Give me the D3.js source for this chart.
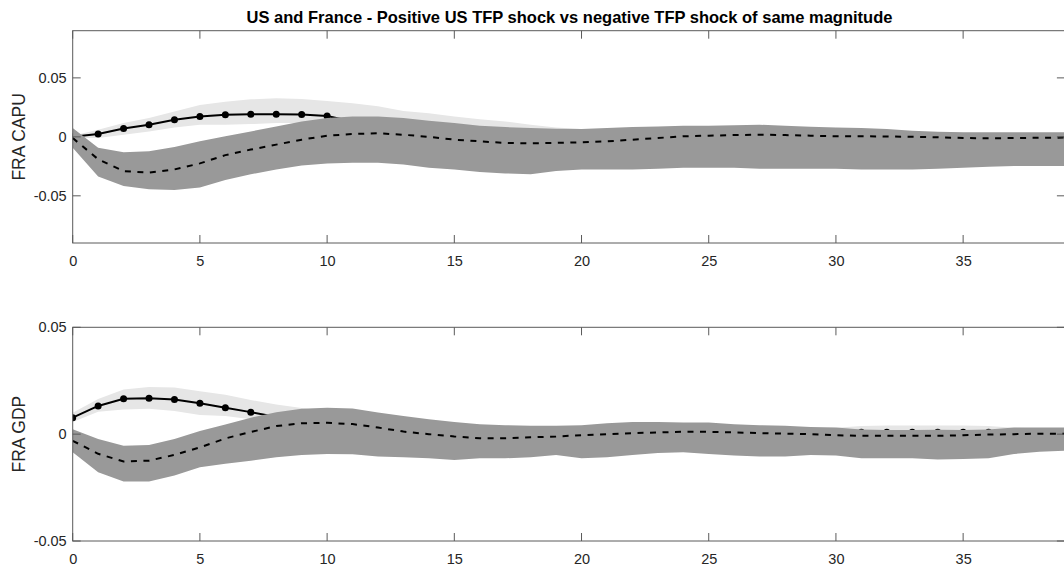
<!DOCTYPE html>
<html><head><meta charset="utf-8">
<script src="https://cdn.jsdelivr.net/npm/d3@7"></script>
<style>
html,body{margin:0;padding:0;background:#fff;}
svg{display:block;font-family:"Liberation Sans",Arial,Helvetica,sans-serif;}
</style></head>
<body><svg id="chart" width="1064" height="569"></svg>
<script>
// ---- data ----
const horizons = d3.range(0, 40);
const chartTitle = "US and France - Positive US TFP shock vs negative TFP shock of same magnitude";
const panelLabels = ["FRA CAPU", "FRA GDP"];
const xTicks = [0, 5, 10, 15, 20, 25, 30, 35];
const yTicksCapu = [-0.05, 0, 0.05];
const yTicksGdp = [-0.05, 0, 0.05];
const yDomainCapu = [-0.09, 0.09];
const yDomainGdp = [-0.05, 0.05];

// FRA CAPU
const capuPos = [0, 0.0024, 0.0071, 0.0103, 0.0145, 0.0172, 0.0188, 0.0192, 0.0192, 0.0190, 0.0176, 0.013, 0.011, 0.009, 0.007, 0.005, 0.004, 0.003, 0.002, 0.0015, 0.001, 0.001, 0.001, 0.001, 0.001, 0.001, 0.001, 0.001, 0.0008, 0.0006, 0.0005, 0.0004, 0.0003, 0.0002, 0, 0, 0, 0, 0, 0];
const capuPosUp = [0.001, 0.006, 0.0117, 0.0159, 0.0214, 0.027, 0.0298, 0.0318, 0.0327, 0.032, 0.0304, 0.0285, 0.026, 0.022, 0.02, 0.0172, 0.015, 0.013, 0.0103, 0.008, 0.0067, 0.006, 0.0058, 0.0058, 0.0058, 0.0058, 0.0058, 0.0058, 0.0056, 0.0054, 0.0052, 0.005, 0.0048, 0.0045, 0.004, 0.0035, 0.0033, 0.0032, 0.0032, 0.0032];
const capuPosLo = [-0.001, -0.001, 0.0018, 0.0046, 0.008, 0.0103, 0.0103, 0.0108, 0.0117, 0.0117, 0.011, 0.009, 0.007, 0.005, 0.003, 0.001, -0.001, -0.002, -0.003, -0.004, -0.004, -0.004, -0.004, -0.004, -0.004, -0.004, -0.004, -0.004, -0.004, -0.004, -0.004, -0.004, -0.004, -0.004, -0.004, -0.004, -0.004, -0.004, -0.004, -0.004];
const capuNeg = [-0.001, -0.019, -0.029, -0.0303, -0.0276, -0.0225, -0.0155, -0.0108, -0.0066, -0.0024, 0.001, 0.0024, 0.003, 0.0018, 0, -0.0024, -0.0038, -0.0051, -0.0055, -0.0051, -0.0046, -0.0038, -0.0024, -0.001, 0.0005, 0.001, 0.0015, 0.0018, 0.0015, 0.001, 0.0005, 0.0005, 0.0003, 0, -0.0003, -0.001, -0.0012, -0.001, -0.0008, -0.0006];
const capuNegUp = [0.0075, -0.0093, -0.013, -0.0122, -0.0085, -0.0038, 0.0005, 0.0046, 0.0088, 0.013, 0.0159, 0.0172, 0.0172, 0.0159, 0.0137, 0.0117, 0.0094, 0.0083, 0.0075, 0.0069, 0.0067, 0.0075, 0.0083, 0.0088, 0.0094, 0.0094, 0.0098, 0.0103, 0.0094, 0.0086, 0.008, 0.0075, 0.0067, 0.0052, 0.0044, 0.0038, 0.0038, 0.0038, 0.0038, 0.0038];
const capuNegLo = [-0.0093, -0.0337, -0.0416, -0.0444, -0.045, -0.043, -0.0365, -0.0318, -0.0276, -0.0242, -0.0225, -0.022, -0.022, -0.0234, -0.0262, -0.0276, -0.0298, -0.031, -0.0318, -0.029, -0.0276, -0.0276, -0.0276, -0.027, -0.0262, -0.0262, -0.0262, -0.027, -0.027, -0.027, -0.027, -0.0276, -0.0276, -0.0276, -0.027, -0.0262, -0.0253, -0.0248, -0.0248, -0.0248];

// FRA GDP
const gdpPos = [0.0077, 0.0132, 0.0166, 0.0168, 0.0162, 0.0145, 0.0124, 0.0103, 0.008, 0.006, 0.0045, 0.0035, 0.0025, 0.0018, 0.0012, 0.0008, 0.0005, 0.0003, 0.0002, 0.0002, 0.0003, 0.0004, 0.0005, 0.0006, 0.0006, 0.0007, 0.0007, 0.0008, 0.0008, 0.0008, 0.0008, 0.0009, 0.0009, 0.0009, 0.0009, 0.0009, 0.0009, 0.0007, 0.0006, 0.0005];
const gdpPosUp = [0.01, 0.0165, 0.0209, 0.0221, 0.0218, 0.0201, 0.0184, 0.016, 0.0139, 0.0122, 0.0105, 0.009, 0.0075, 0.006, 0.005, 0.004, 0.0035, 0.003, 0.003, 0.003, 0.003, 0.003, 0.003, 0.003, 0.003, 0.003, 0.003, 0.003, 0.003, 0.0028, 0.003, 0.0038, 0.004, 0.004, 0.004, 0.004, 0.0038, 0.003, 0.0028, 0.0027];
const gdpPosLo = [0.0057, 0.0105, 0.0115, 0.0119, 0.0108, 0.009, 0.0085, 0.007, 0.005, 0.003, 0.001, -0.001, -0.002, -0.003, -0.003, -0.003, -0.003, -0.003, -0.003, -0.003, -0.003, -0.003, -0.003, -0.002, -0.002, -0.002, -0.002, -0.002, -0.002, -0.002, -0.002, -0.002, -0.002, -0.002, -0.002, -0.002, -0.002, -0.002, -0.002, -0.002];
const gdpNeg = [-0.0031, -0.0092, -0.0128, -0.0124, -0.0097, -0.0062, -0.002, 0.001, 0.0038, 0.0051, 0.0053, 0.0047, 0.0031, 0.0012, 0, -0.0011, -0.0019, -0.0019, -0.0015, -0.0011, -0.0005, 0, 0.0005, 0.0008, 0.0011, 0.0011, 0.0008, 0.0005, 0.0002, 0, -0.0005, -0.0008, -0.0008, -0.0008, -0.0008, -0.0005, -0.0002, 0, 0.0002, 0.0002];
const gdpNegUp = [0.0023, -0.0023, -0.0054, -0.0051, -0.0023, 0.0015, 0.0045, 0.0077, 0.0102, 0.0119, 0.0124, 0.012, 0.0101, 0.0085, 0.007, 0.0057, 0.0046, 0.0042, 0.0039, 0.0039, 0.0042, 0.0051, 0.0057, 0.0057, 0.0055, 0.0054, 0.0046, 0.0042, 0.0039, 0.0034, 0.0031, 0.0022, 0.002, 0.002, 0.0021, 0.002, 0.0022, 0.0031, 0.0031, 0.0031];
const gdpNegLo = [-0.0085, -0.0178, -0.0221, -0.0221, -0.0193, -0.0155, -0.0139, -0.0124, -0.0108, -0.0098, -0.0093, -0.0094, -0.0104, -0.0108, -0.0113, -0.0121, -0.0113, -0.0113, -0.0108, -0.0097, -0.0113, -0.0108, -0.0097, -0.0088, -0.0085, -0.0093, -0.01, -0.0104, -0.0104, -0.0097, -0.01, -0.0113, -0.0113, -0.0113, -0.0119, -0.0116, -0.0113, -0.0093, -0.0082, -0.0077];

// ---- layout ----
const svg = d3.select("#chart");
const left = 72.7, right = 1064.9;
const x = d3.scaleLinear().domain([0, 39]).range([left, right]);

const panels = [
  {label: panelLabels[0], top: 30.7, bottom: 243, dom: yDomainCapu, ticks: yTicksCapu,
   pos: capuPos, posUp: capuPosUp, posLo: capuPosLo, neg: capuNeg, negUp: capuNegUp, negLo: capuNegLo},
  {label: panelLabels[1], top: 327.3, bottom: 541, dom: yDomainGdp, ticks: yTicksGdp,
   pos: gdpPos, posUp: gdpPosUp, posLo: gdpPosLo, neg: gdpNeg, negUp: gdpNegUp, negLo: gdpNegLo}
];

const axisColor = "#5a5a5a";
const textColor = "#262626";
const fmt = v => v === 0 ? "0" : d3.format(".2f")(v).replace("\u2212", "-");

panels.forEach((p, i) => {
  const y = d3.scaleLinear().domain(p.dom).range([p.bottom, p.top]);
  const clipId = "clip" + i;
  svg.append("clipPath").attr("id", clipId).append("rect")
    .attr("x", left).attr("y", p.top).attr("width", right - left).attr("height", p.bottom - p.top);
  const g = svg.append("g").attr("clip-path", `url(#${clipId})`);

  const area = (up, lo) => d3.area().x((d, k) => x(horizons[k])).y0((d, k) => y(lo[k])).y1((d, k) => y(up[k]))(horizons);
  const line = arr => d3.line().x((d, k) => x(horizons[k])).y((d, k) => y(arr[k]))(horizons);

  g.append("path").attr("d", area(p.posUp, p.posLo)).attr("fill", "#e6e6e6");
  g.append("path").attr("d", line(p.pos)).attr("fill", "none").attr("stroke", "#000").attr("stroke-width", 2);
  g.selectAll("circle.m").data(horizons).join("circle").attr("class", "m")
    .attr("cx", (d, k) => x(d)).attr("cy", (d, k) => y(p.pos[k])).attr("r", 3.5).attr("fill", "#000");
  g.append("path").attr("d", area(p.negUp, p.negLo)).attr("fill", "#999999");
  g.append("path").attr("d", line(p.neg)).attr("fill", "none").attr("stroke", "#000")
    .attr("stroke-width", 2).attr("stroke-dasharray", "6,6.5");

  // axes (box, ticks inside)
  const ax = svg.append("g");
  const tl = 8;
  const xBottom = d3.axisBottom(x).tickValues(xTicks).tickSize(0).tickPadding(13).tickFormat(d3.format("d"));
  const gx = ax.append("g").attr("transform", `translate(0,${p.bottom})`).call(xBottom);
  gx.select(".domain").remove();
  gx.selectAll("text").attr("font-size", 14.5).attr("fill", textColor).attr("font-family", "Liberation Sans, Arial, sans-serif");
  const yLeft = d3.axisLeft(y).tickValues(p.ticks).tickSize(0).tickPadding(6).tickFormat(fmt);
  const gy = ax.append("g").attr("transform", `translate(${left},0)`).call(yLeft);
  gy.select(".domain").remove();
  gy.selectAll("text").attr("font-size", 14.5).attr("fill", textColor).attr("font-family", "Liberation Sans, Arial, sans-serif");

  // inward tick marks
  xTicks.forEach(t => {
    ax.append("line").attr("x1", x(t)).attr("x2", x(t)).attr("y1", p.bottom).attr("y2", p.bottom - tl).attr("stroke", axisColor);
    ax.append("line").attr("x1", x(t)).attr("x2", x(t)).attr("y1", p.top).attr("y2", p.top + tl).attr("stroke", axisColor);
  });
  p.ticks.forEach(t => {
    ax.append("line").attr("x1", left).attr("x2", left + tl).attr("y1", y(t)).attr("y2", y(t)).attr("stroke", axisColor);
    ax.append("line").attr("x1", right - tl).attr("x2", right).attr("y1", y(t)).attr("y2", y(t)).attr("stroke", axisColor);
  });
  ax.append("rect").attr("x", left).attr("y", p.top).attr("width", right - left).attr("height", p.bottom - p.top)
    .attr("fill", "none").attr("stroke", axisColor).attr("stroke-width", 1);

  svg.append("text").attr("transform", `translate(25,${(p.top + p.bottom) / 2}) rotate(-90)`)
    .attr("text-anchor", "middle").attr("font-size", 17.5).attr("fill", textColor).text(p.label);
});

svg.append("text").attr("x", 569.5).attr("y", 23).attr("text-anchor", "middle")
  .attr("font-size", 16.5).attr("font-weight", "bold").attr("fill", "#000").text(chartTitle);
</script>
</body></html>
